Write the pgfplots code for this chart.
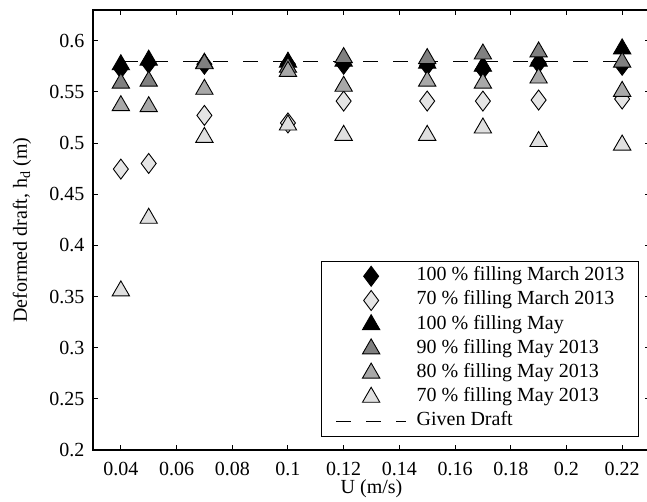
\documentclass[border=0pt]{standalone}
\usepackage{pgfplots}
\pgfplotsset{compat=1.18}
\usepackage{fontspec}
\setmainfont{Liberation Serif}
\newcommand\fs{\fontsize{20}{23.5}\selectfont}
\definecolor{gA}{gray}{0.90}
\definecolor{gB}{gray}{0.50}
\definecolor{gC}{gray}{0.66}
\definecolor{gD}{gray}{0.88}
\pgfplotsset{
  marklegend/.style={legend image code/.code={\draw[mark repeat=2,mark phase=2,##1] plot coordinates {(0pt,0pt) (35pt,0pt) (70pt,0pt)};}},
  dashlegend/.style={legend image code/.code={\draw[##1, dash phase=0pt] (0pt,0pt) -- (70pt,0pt);}},
}
\begin{document}
\begin{tikzpicture}
\begin{axis}[
  scale only axis, width=557pt, height=440pt,
  xmin=0.03, xmax=0.23, ymin=0.2, ymax=0.63,
  xtick={0.04,0.06,0.08,0.1,0.12,0.14,0.16,0.18,0.2,0.22},
  ytick={0.2,0.25,0.3,0.35,0.4,0.45,0.5,0.55,0.6},
  scaled ticks=false,
  tick align=inside, major tick length=5pt,
  axis line style={line width=1.3pt},
  every tick/.style={line width=1pt, black},
  /pgf/number format/assume math mode=true,
  /pgf/number format/fixed, /pgf/number format/precision=2,
  tick label style={font=\fs},
  xticklabel style={yshift=-9pt},
  yticklabel style={xshift=-5pt},
  every axis y label/.style={at={(axis description cs:0,0.5)}, xshift=-71pt, rotate=90, anchor=center, font=\fs},
  every axis x label/.style={at={(axis description cs:0.5,0)}, yshift=-39pt, anchor=center, font=\fs},
  xlabel={U (m/s)},
  ylabel={Deformed draft, h\textsubscript{d} (m)},
  marklegend,
  legend cell align=left,
  legend style={at={(0.4088,0.0295)}, anchor=south west, draw=black, line width=1.3pt,
    inner xsep=14.3pt, inner ysep=2.8pt, row sep=0pt,
    nodes={inner xsep=0pt, inner ysep=2.6pt, text height=14pt, text depth=5pt, font=\fs},
    /tikz/every odd column/.append style={column sep=10pt}},
]
\addplot[only marks, mark=diamond*, mark size=10pt, mark options={fill=black, draw=black, line width=0.9pt}] coordinates {
 (0.04,0.573) (0.05,0.578) (0.07,0.577) (0.1,0.577) (0.12,0.577) (0.15,0.576) (0.17,0.572) (0.19,0.578) (0.22,0.576)};
\addlegendentry{100 \% filling March 2013}
\addplot[only marks, mark=diamond*, mark size=10pt, mark options={fill=gA, draw=black, line width=0.9pt}] coordinates {
 (0.04,0.4745) (0.05,0.480) (0.07,0.527) (0.1,0.5196) (0.12,0.541) (0.15,0.541) (0.17,0.541) (0.19,0.542) (0.22,0.543)};
\addlegendentry{70 \% filling March 2013}
\addplot[only marks, mark=triangle*, mark size=10pt, mark options={fill=black, draw=black, line width=0.9pt}] coordinates {
 (0.04,0.5765) (0.05,0.581) (0.07,0.578) (0.1,0.579) (0.12,0.580) (0.15,0.578) (0.17,0.575) (0.19,0.580) (0.22,0.592)};
\addlegendentry{100 \% filling May}
\addplot[only marks, mark=triangle*, mark size=10pt, mark options={fill=gB, draw=black, line width=0.9pt}] coordinates {
 (0.04,0.5585) (0.05,0.5605) (0.07,0.5775) (0.1,0.574) (0.12,0.5835) (0.15,0.5825) (0.17,0.587) (0.19,0.589) (0.22,0.579)};
\addlegendentry{90 \% filling May 2013}
\addplot[only marks, mark=triangle*, mark size=10pt, mark options={fill=gC, draw=black, line width=0.9pt}] coordinates {
 (0.04,0.5365) (0.05,0.5355) (0.07,0.5525) (0.1,0.570) (0.12,0.5555) (0.15,0.5605) (0.17,0.5585) (0.19,0.5635) (0.22,0.5505)};
\addlegendentry{80 \% filling May 2013}
\addplot[only marks, mark=triangle*, mark size=10pt, mark options={fill=gD, draw=black, line width=0.9pt}] coordinates {
 (0.04,0.3555) (0.05,0.4265) (0.07,0.5055) (0.1,0.5176) (0.12,0.5075) (0.15,0.5075) (0.17,0.5147) (0.19,0.5015) (0.22,0.498)};
\addlegendentry{70 \% filling May 2013}
\addplot[black, line width=1pt, dash pattern=on 15pt off 15pt, dash phase=27.7pt, dashlegend] coordinates {
 (0.04,0.58) (0.22,0.58)};
\addlegendentry{Given Draft}
\end{axis}
\pgfresetboundingbox
\path[use as bounding box] (-93pt,-52pt) rectangle (554pt,450pt);
\end{tikzpicture}
\end{document}
